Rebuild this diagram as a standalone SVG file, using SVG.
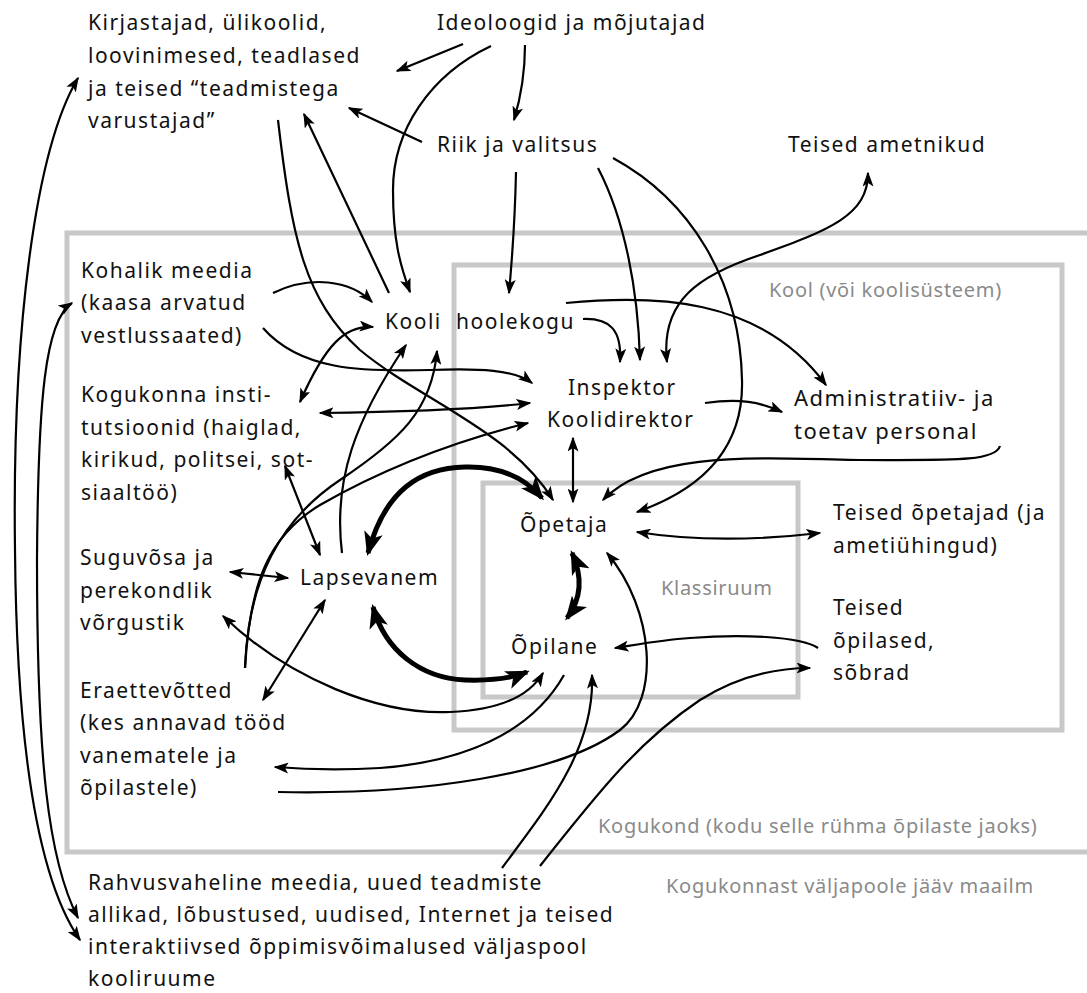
<svg xmlns="http://www.w3.org/2000/svg" width="1087" height="993" viewBox="0 0 1087 993">
<style>
.t{font-family:"Noto Sans","Open Sans","DejaVu Sans",sans-serif;font-size:21px;letter-spacing:1.5px;fill:#111}
.g{font-family:"Noto Sans","Open Sans","DejaVu Sans",sans-serif;font-size:20px;letter-spacing:0.7px;fill:#8a8a8a}
.box{fill:none;stroke:#c8c8c8;stroke-width:5}
.c path{fill:none;stroke:#000;stroke-width:2.2}
.c .e{marker-end:url(#ah)}
.c .b{marker-start:url(#ah);marker-end:url(#ah)}
.c .tk{stroke-width:5;marker-start:url(#ahT);marker-end:url(#ahT)}
</style>
<defs>
<marker id="ah" viewBox="0 0 15 11" refX="13.5" refY="5.5" markerWidth="15" markerHeight="11" markerUnits="userSpaceOnUse" orient="auto-start-reverse">
<path d="M0,0 L15,5.5 L0,11 L3.5,5.5 z" fill="#000"/>
</marker>
<marker id="ahT" viewBox="0 0 24 19" refX="21" refY="9.5" markerWidth="24" markerHeight="19" markerUnits="userSpaceOnUse" orient="auto-start-reverse">
<path d="M0,0 L24,9.5 L0,19 L6,9.5 z" fill="#000"/>
</marker>
</defs>
<rect width="1087" height="993" fill="#fff"/>
<g id="boxes">
<rect class="box" x="67" y="233" width="1040" height="619"/>
<rect class="box" x="454" y="265" width="608" height="465"/>
<rect class="box" x="483" y="483" width="315" height="214"/>
<text class="g" x="769" y="297">Kool (või koolisüsteem)</text>
<text class="g" x="661" y="595">Klassiruum</text>
<text class="g" x="598" y="833">Kogukond (kodu selle rühma õpilaste jaoks)</text>
<text class="g" x="666" y="893">Kogukonnast väljapoole jääv maailm</text>
</g>
<g id="connectors" class="c">
<path class="e" d="M463,44 L397,71"/>
<path class="e" d="M491,46 C430,75 393,130 393,190 C393,240 400,265 410,292"/>
<path class="e" d="M525,45 C525,75 520,100 514,120"/>
<path class="e" d="M422,142 L349,108"/>
<path class="e" d="M389,293 L304,114"/>
<path class="e" d="M278,120 C292,240 305,300 360,350 C420,400 510,430 553,500"/>
<path class="e" d="M516,172 C515,220 512,260 509,293"/>
<path class="e" d="M598,168 C625,220 638,290 640,360"/>
<path class="e" d="M613,158 C690,200 740,280 742,380 C744,450 700,490 637,512"/>
<path class="b" d="M667,362 C660,300 700,275 760,255 C830,230 868,215 868,173"/>
<path class="e" d="M583,319 C610,318 622,330 620,362"/>
<path class="e" d="M566,303 C650,295 760,295 826,385"/>
<path class="e" d="M705,403 C740,398 760,402 782,412"/>
<path class="e" d="M1000,446 C995,462 950,460 860,460 C760,458 650,450 603,500"/>
<path class="b" d="M573,438 L573,502"/>
<path class="e" d="M273,293 C310,275 350,280 372,302"/>
<path class="e" d="M263,328 C300,370 360,372 430,370 C480,368 515,370 532,383"/>
<path class="b" d="M373,327 C345,325 325,345 300,402"/>
<path class="b" d="M320,413 C400,412 470,410 530,403"/>
<path class="b" d="M285,466 L320,555"/>
<path class="e" d="M342,553 C333,480 355,420 406,345"/>
<path class="e" d="M245,668 C248,580 280,520 340,480 C400,440 432,410 437,351"/>
<path class="e" d="M245,668 C250,580 270,535 320,505 C390,465 460,440 528,423"/>
<path class="b" d="M230,572 L288,578"/>
<path class="b" d="M325,600 L263,700"/>
<path class="b" d="M223,616 C290,680 380,715 450,712 C500,710 530,695 543,673"/>
<path class="tk" d="M368,553 C385,490 420,468 465,467 C500,466 525,478 542,498"/>
<path class="tk" d="M373,607 C385,650 420,678 465,680 C495,681 515,677 527,672"/>
<path class="tk" d="M572,553 C582,575 582,598 567,618"/>
<path class="b" d="M637,532 C700,542 760,540 820,533"/>
<path class="e" d="M818,648 C800,636 740,634 690,638 C660,640 635,645 615,648"/>
<path class="e" d="M540,866 C600,790 640,740 700,700 C740,675 780,668 810,668"/>
<path class="e" d="M502,868 C545,810 595,750 592,675"/>
<path class="e" d="M278,792 C420,795 560,775 620,730 C660,700 655,610 607,553"/>
<path class="e" d="M564,675 C530,735 460,762 380,768 C330,771 300,769 275,767"/>
<path class="b" d="M78,78 C35,150 12,330 15,550 C17,780 45,890 80,940"/>
<path class="b" d="M72,303 C45,320 38,400 37,560 C37,760 48,860 78,918"/>
</g>
<g id="n-kirjastajad"><text class="t" x="88" y="30">Kirjastajad, ülikoolid,</text><text class="t" x="88" y="63">loovinimesed, teadlased</text><text class="t" x="88" y="96">ja teised “teadmistega</text><text class="t" x="88" y="128">varustajad”</text></g>
<g id="n-ideoloogid"><text class="t" x="437" y="30">Ideoloogid ja mõjutajad</text></g>
<g id="n-riik"><text class="t" x="437" y="152">Riik ja valitsus</text></g>
<g id="n-ametnikud"><text class="t" x="788" y="152">Teised ametnikud</text></g>
<g id="n-kohalik"><text class="t" x="81" y="278">Kohalik meedia</text><text class="t" x="81" y="310">(kaasa arvatud</text><text class="t" x="81" y="343">vestlussaated)</text></g>
<g id="n-kogukonna"><text class="t" x="81" y="402">Kogukonna insti-</text><text class="t" x="81" y="435">tutsioonid (haiglad,</text><text class="t" x="81" y="467">kirikud, politsei, sot-</text><text class="t" x="81" y="500">siaaltöö)</text></g>
<g id="n-kooli"><text class="t" x="385" y="329">Kooli</text></g>
<g id="n-hoolekogu"><text class="t" x="456" y="329">hoolekogu</text></g>
<g id="n-inspektor"><text class="t" x="568" y="395">Inspektor</text><text class="t" x="547" y="427">Koolidirektor</text></g>
<g id="n-admin"><text class="t" x="794" y="406" style="font-size:22px">Administratiiv- ja</text><text class="t" x="794" y="439" style="font-size:22px">toetav personal</text></g>
<g id="n-suguvosa"><text class="t" x="80" y="565">Suguvõsa ja</text><text class="t" x="80" y="598">perekondlik</text><text class="t" x="80" y="630">võrgustik</text></g>
<g id="n-lapsevanem"><text class="t" x="300" y="585">Lapsevanem</text></g>
<g id="n-eraettevotted"><text class="t" x="80" y="698">Eraettevõtted</text><text class="t" x="80" y="730">(kes annavad tööd</text><text class="t" x="80" y="763">vanematele ja</text><text class="t" x="80" y="795">õpilastele)</text></g>
<g id="n-opetaja"><text class="t" x="520" y="532">Õpetaja</text></g>
<g id="n-opilane"><text class="t" x="511" y="654">Õpilane</text></g>
<g id="n-teised-opetajad"><text class="t" x="833" y="520">Teised õpetajad (ja</text><text class="t" x="833" y="553">ametiühingud)</text></g>
<g id="n-teised-opilased"><text class="t" x="833" y="615">Teised</text><text class="t" x="833" y="648">õpilased,</text><text class="t" x="833" y="680">sõbrad</text></g>
<g id="n-rahvusvaheline"><text class="t" x="88" y="890">Rahvusvaheline meedia, uued teadmiste</text><text class="t" x="88" y="922">allikad, lõbustused, uudised, Internet ja teised</text><text class="t" x="88" y="954">interaktiivsed õppimisvõimalused väljaspool</text><text class="t" x="88" y="986">kooliruume</text></g>
</svg>
